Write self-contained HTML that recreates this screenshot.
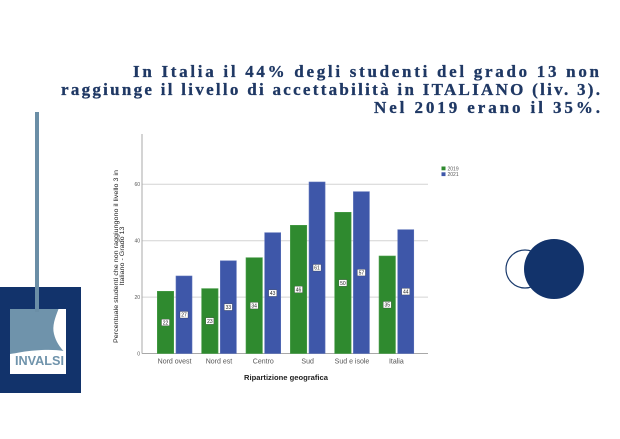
<!DOCTYPE html>
<html>
<head>
<meta charset="utf-8">
<style>
  html, body { margin:0; padding:0; background:#ffffff; }
  body { width:620px; height:439px; overflow:hidden; }
  svg { display:block; }
</style>
</head>
<body>
<svg width="620" height="439" viewBox="0 0 620 439" xmlns="http://www.w3.org/2000/svg">
  <rect x="0" y="0" width="620" height="439" fill="#ffffff"/>

  <!-- Title -->
  <g font-family="'Liberation Serif', serif" font-weight="bold" font-size="17" fill="#1f3864" stroke="#1f3864" stroke-width="0.3">
    <text x="133" y="77" textLength="466" lengthAdjust="spacing">In Italia il 44% degli studenti del grado 13 non</text>
    <text x="61" y="95" textLength="539" lengthAdjust="spacing">raggiunge il livello di accettabilità in ITALIANO (liv. 3).</text>
    <text x="374" y="113" textLength="226" lengthAdjust="spacing">Nel 2019 erano il 35%.</text>
  </g>

  <!-- Left decoration / logo -->
  <rect x="0" y="287" width="81" height="106" fill="#12336b"/>
  <rect x="10" y="309" width="56" height="65" fill="#ffffff"/>
  <path d="M10,309 L58.5,309 C55,318 52,326 54,334 C56,342 60,347 63.5,351 C52,349 35,350 22,352 C17,353 13,353.5 10,354 Z" fill="#6f93ab"/>
  <rect x="35" y="112" width="4" height="200" fill="#6b8ea6"/>
  <text transform="translate(15,365) scale(1,1.25)" font-family="'Liberation Sans', sans-serif" font-weight="bold" font-size="10" fill="#6f93ab" textLength="49" lengthAdjust="spacingAndGlyphs">INVALSI</text>

  <!-- Circles -->
  <circle cx="525" cy="269" r="19" fill="none" stroke="#1a3a6c" stroke-width="1.2"/>
  <circle cx="554" cy="269" r="30" fill="#12336b"/>

  <!-- Chart gridlines -->
  <g stroke="#d4d4d4" stroke-width="1">
    <line x1="142" y1="297.1" x2="428" y2="297.1"/>
    <line x1="142" y1="240.7" x2="428" y2="240.7"/>
    <line x1="142" y1="184.3" x2="428" y2="184.3"/>
  </g>
  <!-- Axes -->
  <line x1="142" y1="134" x2="142" y2="353.5" stroke="#a8a8a8" stroke-width="1"/>
  <line x1="142" y1="353.5" x2="428" y2="353.5" stroke="#a8a8a8" stroke-width="1"/>

  <!-- Y tick labels -->
  <g font-family="'Liberation Sans', sans-serif" font-size="5" fill="#555" text-anchor="end">
    <text x="140" y="355.3">0</text>
    <text x="140" y="298.9">20</text>
    <text x="140" y="242.5">40</text>
    <text x="140" y="186.1">60</text>
  </g>

  <!-- Bars -->
  <g stroke-width="0.6">
    <rect x="157.3" y="291.3" width="16.4" height="62.2" fill="#2f8a2f" stroke="#4a9e4a"/>
    <rect x="176.0" y="276.0" width="16.0" height="77.5" fill="#3e57a9" stroke="#5a70b8"/>
    <rect x="201.65" y="288.6" width="16.4" height="64.9" fill="#2f8a2f" stroke="#4a9e4a"/>
    <rect x="220.35" y="260.8" width="16.0" height="92.7" fill="#3e57a9" stroke="#5a70b8"/>
    <rect x="246.0" y="257.7" width="16.4" height="95.8" fill="#2f8a2f" stroke="#4a9e4a"/>
    <rect x="264.7" y="232.7" width="16.0" height="120.8" fill="#3e57a9" stroke="#5a70b8"/>
    <rect x="290.35" y="225.3" width="16.4" height="128.2" fill="#2f8a2f" stroke="#4a9e4a"/>
    <rect x="309.05" y="182.0" width="16.0" height="171.5" fill="#3e57a9" stroke="#5a70b8"/>
    <rect x="334.7" y="212.3" width="16.4" height="141.2" fill="#2f8a2f" stroke="#4a9e4a"/>
    <rect x="353.4" y="191.7" width="16.0" height="161.8" fill="#3e57a9" stroke="#5a70b8"/>
    <rect x="379.05" y="256.0" width="16.4" height="97.5" fill="#2f8a2f" stroke="#4a9e4a"/>
    <rect x="397.75" y="229.7" width="16.0" height="123.8" fill="#3e57a9" stroke="#5a70b8"/>
  </g>

  <!-- Bar labels -->
  <g font-family="'Liberation Sans', sans-serif" font-size="5" fill="#222" text-anchor="middle">
    <rect x="161.5" y="319.2" width="8" height="6.5" fill="#fff" stroke="#333" stroke-width="0.3"/><text x="165.5" y="324.3">22</text>
    <rect x="180.0" y="311.5" width="8" height="6.5" fill="#fff" stroke="#333" stroke-width="0.3"/><text x="184.0" y="316.6">27</text>
    <rect x="205.85" y="317.8" width="8" height="6.5" fill="#fff" stroke="#333" stroke-width="0.3"/><text x="209.85" y="322.9">23</text>
    <rect x="224.35" y="303.9" width="8" height="6.5" fill="#fff" stroke="#333" stroke-width="0.3"/><text x="228.35" y="309.0">33</text>
    <rect x="250.2" y="302.4" width="8" height="6.5" fill="#fff" stroke="#333" stroke-width="0.3"/><text x="254.2" y="307.5">34</text>
    <rect x="268.7" y="289.9" width="8" height="6.5" fill="#fff" stroke="#333" stroke-width="0.3"/><text x="272.7" y="295.0">43</text>
    <rect x="294.55" y="286.2" width="8" height="6.5" fill="#fff" stroke="#333" stroke-width="0.3"/><text x="298.55" y="291.3">46</text>
    <rect x="313.05" y="264.5" width="8" height="6.5" fill="#fff" stroke="#333" stroke-width="0.3"/><text x="317.05" y="269.6">61</text>
    <rect x="338.9" y="279.7" width="8" height="6.5" fill="#fff" stroke="#333" stroke-width="0.3"/><text x="342.9" y="284.8">50</text>
    <rect x="357.4" y="269.4" width="8" height="6.5" fill="#fff" stroke="#333" stroke-width="0.3"/><text x="361.4" y="274.5">57</text>
    <rect x="383.25" y="301.5" width="8" height="6.5" fill="#fff" stroke="#333" stroke-width="0.3"/><text x="387.25" y="306.6">35</text>
    <rect x="401.75" y="288.4" width="8" height="6.5" fill="#fff" stroke="#333" stroke-width="0.3"/><text x="405.75" y="293.5">44</text>
  </g>

  <!-- X tick labels -->
  <g font-family="'Liberation Sans', sans-serif" font-size="7" fill="#555" text-anchor="middle">
    <text x="174.6" y="363.3">Nord ovest</text>
    <text x="218.95" y="363.3">Nord est</text>
    <text x="263.3" y="363.3">Centro</text>
    <text x="307.65" y="363.3">Sud</text>
    <text x="352" y="363.3">Sud e isole</text>
    <text x="396.35" y="363.3">Italia</text>
  </g>

  <!-- X axis title -->
  <text x="244" y="380" font-family="'Liberation Sans', sans-serif" font-weight="bold" font-size="7" fill="#222" textLength="84" lengthAdjust="spacingAndGlyphs">Ripartizione geografica</text>

  <!-- Y axis title -->
  <g font-family="'Liberation Sans', sans-serif" font-size="6.2" fill="#222" text-anchor="middle">
    <text transform="translate(118,256.5) rotate(-90)" textLength="173" lengthAdjust="spacingAndGlyphs">Percentuale studenti che non raggiungono il livello 3 in</text>
    <text transform="translate(124,256) rotate(-90)" textLength="59" lengthAdjust="spacingAndGlyphs">Italiano - Grado 13</text>
  </g>

  <!-- Legend -->
  <rect x="441.5" y="166.5" width="4" height="3.8" fill="#2f8a2f"/>
  <rect x="441.5" y="172.3" width="4" height="3.8" fill="#3e57a9"/>
  <g font-family="'Liberation Sans', sans-serif" font-size="5" fill="#555">
    <text x="447.5" y="170.3">2019</text>
    <text x="447.5" y="176.1">2021</text>
  </g>
</svg>
</body>
</html>
